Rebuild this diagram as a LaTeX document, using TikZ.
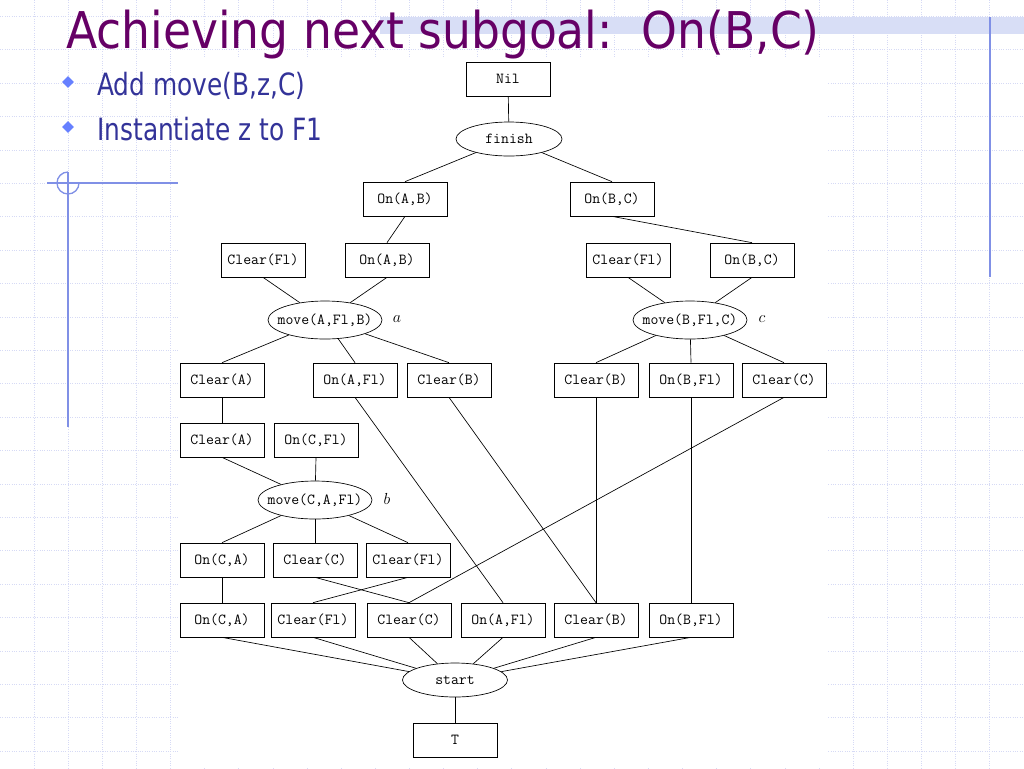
\documentclass[tikz,border=0pt]{standalone}
\usepackage{fontspec}
\newfontfamily\slidefont{DejaVu Sans Condensed}
\usetikzlibrary{shapes.geometric}
\definecolor{titlepurple}{RGB}{102,0,102}
\definecolor{bulletblue}{RGB}{51,51,153}
\definecolor{diamondblue}{RGB}{102,128,255}
\definecolor{ruleblue}{RGB}{128,144,230}
\definecolor{gridlav}{RGB}{214,218,245}
\definecolor{bandblue}{RGB}{216,222,246}
\tikzset{
	box/.style={draw,rectangle,minimum width=63pt,minimum height=25.5pt,inner sep=0,font=\ttfamily\fontsize{11.5}{12}\selectfont},
	oval/.style={draw,ellipse,inner xsep=-6.7pt,inner ysep=0,font=\ttfamily\fontsize{11.5}{12}\selectfont},
	tag/.style={font=\fontsize{11.5}{12}\selectfont},
	gridline/.style={gridlav,densely dotted,line width=0.75pt},
	bulletmark/.style={diamond,fill=diamondblue,inner sep=0,minimum size=9pt},
	bullettext/.style={anchor=base west,inner sep=0,text=bulletblue,xscale=0.9,font=\slidefont\fontsize{23}{26}\selectfont}
}

\begin{document}
\begin{tikzpicture}[x=0.75pt,y=-0.75pt,line width=0.5pt]
	\useasboundingbox (0,0) rectangle (1024,768);
	\fill[white] (0,0) rectangle (1024,768);
	\foreach \i in {1,...,29}
		\draw[gridline] (\i*34.13,0) -- (\i*34.13,768);
	\foreach \j in {0,...,22}
		\draw[gridline] (0,16.5+\j*33.4) -- (1024,16.5+\j*33.4);
	\fill[bandblue] (380,17) rectangle (1024,34);
	\fill[white] (178,57) rectangle (828,768);
	\draw[ruleblue,line width=1pt] (990,17) -- (990,277);
	\draw[ruleblue,line width=1pt] (47,183) -- (178,183);
	\draw[ruleblue,line width=1pt] (68,172) -- (68,427);
	\draw[ruleblue,line width=1pt] (68,172) arc[start angle=270,end angle=0,radius=11];
	\node[anchor=base west,inner sep=0,text=titlepurple,font=\slidefont\fontsize{38}{40}\selectfont] (title) at (66,48) {Achieving next subgoal:\ \ On(B,C)};
	\node[bulletmark] (d1) at (68,82) {};
	\node[bulletmark] (d2) at (68,127) {};
	\node[bullettext] (b1) at (97,95) {Add move(B,z,C)};
	\node[bullettext] (b2) at (97,140) {Instantiate z to F1};

	\node[box] (nil) at (508,79) {Nil};
	\node[oval,minimum width=79.5pt,minimum height=25.5pt] (fin) at (509,139) {finish};
	\node[box] (onab) at (405,199) {On(A,B)};
	\node[box] (onbc) at (612,199) {On(B,C)};
	\node[box] (clf1) at (263,260) {Clear(Fl)};
	\node[box] (onab2) at (387,260) {On(A,B)};
	\node[box] (clf2) at (628,260) {Clear(Fl)};
	\node[box] (onbc2) at (752,260) {On(B,C)};
	\node[oval,minimum width=85.5pt,minimum height=28.5pt] (mva) at (325,320) {move(A,Fl,B)};
	\node[tag] (la) at (397,319) {$a$};
	\node[oval,minimum width=85.5pt,minimum height=28.5pt] (mvc) at (690,320) {move(B,Fl,C)};
	\node[tag] (lc) at (762,319) {$c$};
	\node[box] (cla) at (222,380) {Clear(A)};
	\node[box] (onaf) at (355,380) {On(A,Fl)};
	\node[box] (clb) at (449,380) {Clear(B)};
	\node[box] (clb2) at (596,380) {Clear(B)};
	\node[box] (onbf) at (691,380) {On(B,Fl)};
	\node[box] (clc) at (784,380) {Clear(C)};
	\node[box] (cla2) at (222,440) {Clear(A)};
	\node[box] (oncf) at (316,440) {On(C,Fl)};
	\node[oval,minimum width=85.5pt,minimum height=28.5pt] (mvb) at (315,500) {move(C,A,Fl)};
	\node[tag] (lb) at (387,499) {$b$};
	\node[box] (onca) at (222,560) {On(C,A)};
	\node[box] (clc2) at (315,560) {Clear(C)};
	\node[box] (clf3) at (408,560) {Clear(Fl)};
	\node[box] (onca2) at (222,620) {On(C,A)};
	\node[box] (clf4) at (313,620) {Clear(Fl)};
	\node[box] (clc3) at (409,620) {Clear(C)};
	\node[box] (onaf2) at (503,620) {On(A,Fl)};
	\node[box] (clb3) at (596,620) {Clear(B)};
	\node[box] (onbf2) at (691,620) {On(B,Fl)};
	\node[oval,minimum width=78.75pt,minimum height=25.5pt] (st) at (455,680) {start};
	\node[box] (tt) at (455,740) {T};

	\draw (nil) -- (fin);
	\draw (onab.north) -- (fin);
	\draw (onbc.north) -- (fin);
	\draw (onab.south) -- (onab2.north);
	\draw (onbc.south) -- (onbc2.north);
	\draw (clf1.south) -- (mva);
	\draw (onab2.south) -- (mva);
	\draw (clf2.south) -- (mvc);
	\draw (onbc2.south) -- (mvc);
	\draw (cla.north) -- (mva);
	\draw (onaf.north) -- (mva);
	\draw (clb.north) -- (mva);
	\draw (clb2.north) -- (mvc);
	\draw (onbf.north) -- (mvc);
	\draw (clc.north) -- (mvc);
	\draw (cla.south) -- (cla2.north);
	\draw (cla2.south) -- (mvb);
	\draw (oncf.south) -- (mvb);
	\draw (onca.north) -- (mvb);
	\draw (clc2.north) -- (mvb);
	\draw (clf3.north) -- (mvb);
	\draw (onca.south) -- (onca2.north);
	\draw (clc2.south) -- (clc3.north);
	\draw (clf3.south) -- (clf4.north);
	\draw (clc.south) -- (clc3.north);
	\draw (onaf.south) -- (onaf2.north);
	\draw (clb.south) -- (clb3.north);
	\draw (clb2.south) -- (clb3.north);
	\draw (onbf.south) -- (onbf2.north);
	\foreach \n in {onca2,clf4,clc3,onaf2,clb3,onbf2}
		\draw (\n.south) -- (st);
	\draw (st) -- (tt);
\end{tikzpicture}
\end{document}
